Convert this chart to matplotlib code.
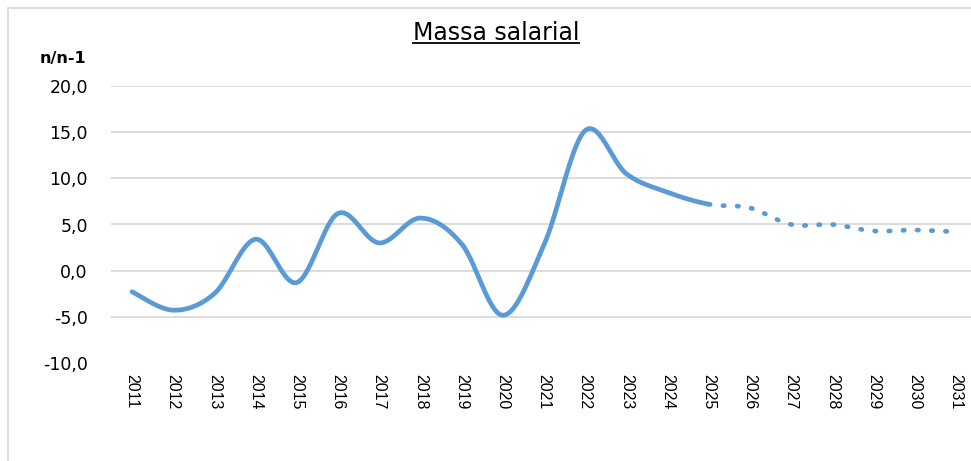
import numpy as np
import matplotlib
matplotlib.use("Agg")
import matplotlib.pyplot as plt
from matplotlib.lines import Line2D
from matplotlib.patches import Rectangle

# ---- data ----
years = [str(y) for y in range(2011, 2032)]
hist_values = [-2.3, -4.3, -2.5, 3.4, -1.3, 6.2, 3.0, 5.7, 2.9, -4.85, 2.8, 15.2, 10.5, 8.5, 7.2]  # 2011-2025
fcst_values = [7.2, 6.8, 5.0, 5.0, 4.3, 4.4, 4.2]  # 2025-2031
yticks = [-10, -5, 0, 5, 10, 15, 20]
title = "Massa salarial"
ylabel = "n/n-1"

COLOR = "#5B9BD5"
GRID = "#D9D9D9"


def smooth(xs, ys, n=30):
    """Excel-like smoothed line (Catmull-Rom Bezier)."""
    xs = np.asarray(xs, float)
    ys = np.asarray(ys, float)
    px = np.concatenate([[xs[0]], xs, [xs[-1]]])
    py = np.concatenate([[ys[0]], ys, [ys[-1]]])
    ox, oy = [], []
    t = np.linspace(0, 1, n)
    for i in range(1, len(px) - 2):
        p0 = np.array([px[i], py[i]])
        p3 = np.array([px[i + 1], py[i + 1]])
        p1 = p0 + (np.array([px[i + 1], py[i + 1]]) - np.array([px[i - 1], py[i - 1]])) / 6
        p2 = p3 - (np.array([px[i + 2], py[i + 2]]) - np.array([px[i], py[i]])) / 6
        b = ((1 - t) ** 3)[:, None] * p0 + (3 * (1 - t) ** 2 * t)[:, None] * p1 \
            + (3 * (1 - t) * t ** 2)[:, None] * p2 + (t ** 3)[:, None] * p3
        if i > 1:
            b = b[1:]
        ox.extend(b[:, 0])
        oy.extend(b[:, 1])
    return np.array(ox), np.array(oy)


all_vals = hist_values + fcst_values[1:]
sx, sy = smooth(range(len(all_vals)), all_vals)
n_hist = len(hist_values) - 1
mask_h = sx <= n_hist + 1e-9
mask_f = sx >= n_hist - 1e-9

fig = plt.figure(figsize=(9.71, 4.61), dpi=100)
fig.patch.set_facecolor("white")

# chart border (Excel chart area), partially cropped
fig.patches.append(Rectangle((7.5 / 971, -0.1), 1.2, 1 - 8 / 461 + 0.1,
                             transform=fig.transFigure, fill=False,
                             edgecolor=GRID, linewidth=1.2))

ax = fig.add_axes([111.4 / 971, 1 - 362.7 / 461, 865.2 / 971, (362.7 - 86.3) / 461])
ax.set_xlim(-0.5, 20.5)
ax.set_ylim(-10, 20)
for s in ax.spines.values():
    s.set_visible(False)

ax.set_yticks(yticks)
ax.set_yticklabels([f"{v:.1f}".replace(".", ",") for v in yticks],
                   fontsize=12.5, family="DejaVu Sans")
ax.set_xticks(range(len(years)))
ax.set_xticklabels(years, rotation=270, fontsize=11.5, family="Liberation Sans")
ax.tick_params(axis="both", length=0)
ax.tick_params(axis="y", pad=17)
ax.tick_params(axis="x", pad=8)

for v in yticks[1:]:
    ax.axhline(v, color=GRID, linewidth=1.3, zorder=1)

ax.plot(sx[mask_h], sy[mask_h], color=COLOR, linewidth=3.4,
        solid_capstyle="round", zorder=3)
ax.plot(sx[mask_f], sy[mask_f], color=COLOR, linewidth=3.4,
        linestyle=(0, (0.3, 2.7)), dash_capstyle="round", zorder=3)

t = fig.text(496 / 971, 1 - 33 / 461, title, ha="center", va="center",
             fontsize=17, family="DejaVu Sans", color="black")
fig.canvas.draw()
bb = t.get_window_extent()
fig.add_artist(Line2D([bb.x0 / 971, bb.x1 / 971], [(461 - 43.5) / 461] * 2,
                      transform=fig.transFigure, color="black", linewidth=1.3))

fig.text(63 / 971, 1 - 58 / 461, ylabel, ha="center", va="center",
         fontsize=11.5, fontweight="bold", family="DejaVu Sans")

fig.savefig("out.png", dpi=100)
